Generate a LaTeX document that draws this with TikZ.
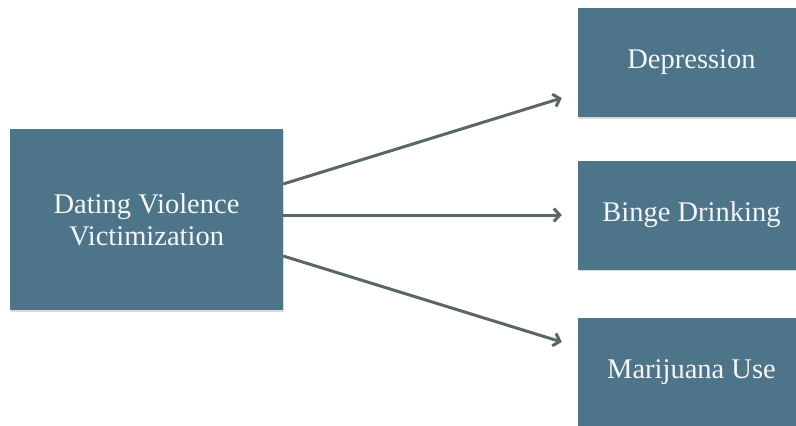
\documentclass[tikz,border=0pt]{standalone}
\usepackage{fontspec}
\setmainfont{Liberation Serif}
\usepackage{tikz}
\usetikzlibrary{arrows.meta,shadows}
\definecolor{slate}{HTML}{4D7488}
\definecolor{arrowgray}{HTML}{5B6668}

\begin{document}
\begin{tikzpicture}[
		x=1pt, y=-1pt,
		every node/.style={rectangle, fill=slate, text=white!93!slate, align=center,
			font=\fontsize{28.5}{32}\selectfont, inner sep=0pt,
			drop shadow={shadow xshift=1pt, shadow yshift=-1.5pt, opacity=0.3}},
		outcome/.style={minimum width=227pt, minimum height=109pt},
		link/.style={draw=arrowgray, line width=3pt, -{Straight Barb[length=6pt, width=13pt, line width=3pt]}}
	]
  \useasboundingbox[clip] (0, 0) rectangle (796, 426);
  \node (dvv) [minimum width=273pt, minimum height=181pt] at (146.5, 219.5) {Dating Violence\\Victimization};
  \node (dep) [outcome] at (691.5, 62.5) {Depression};
  \node (bin) [outcome] at (691.5, 215) {Binge Drinking};
  \node (mar) [outcome] at (691.5, 372.5) {Marijuana Use};
  \draw [link] ([yshift=35.5pt]dvv.east) -- ([xshift=-16pt, yshift=-35.5pt]dep.west);
  \draw [link] (dvv.east |- bin.west) -- ([xshift=-16pt]bin.west);
  \draw [link] ([yshift=-36.5pt]dvv.east) -- ([xshift=-16pt, yshift=30.5pt]mar.west);
\end{tikzpicture}
\end{document}
